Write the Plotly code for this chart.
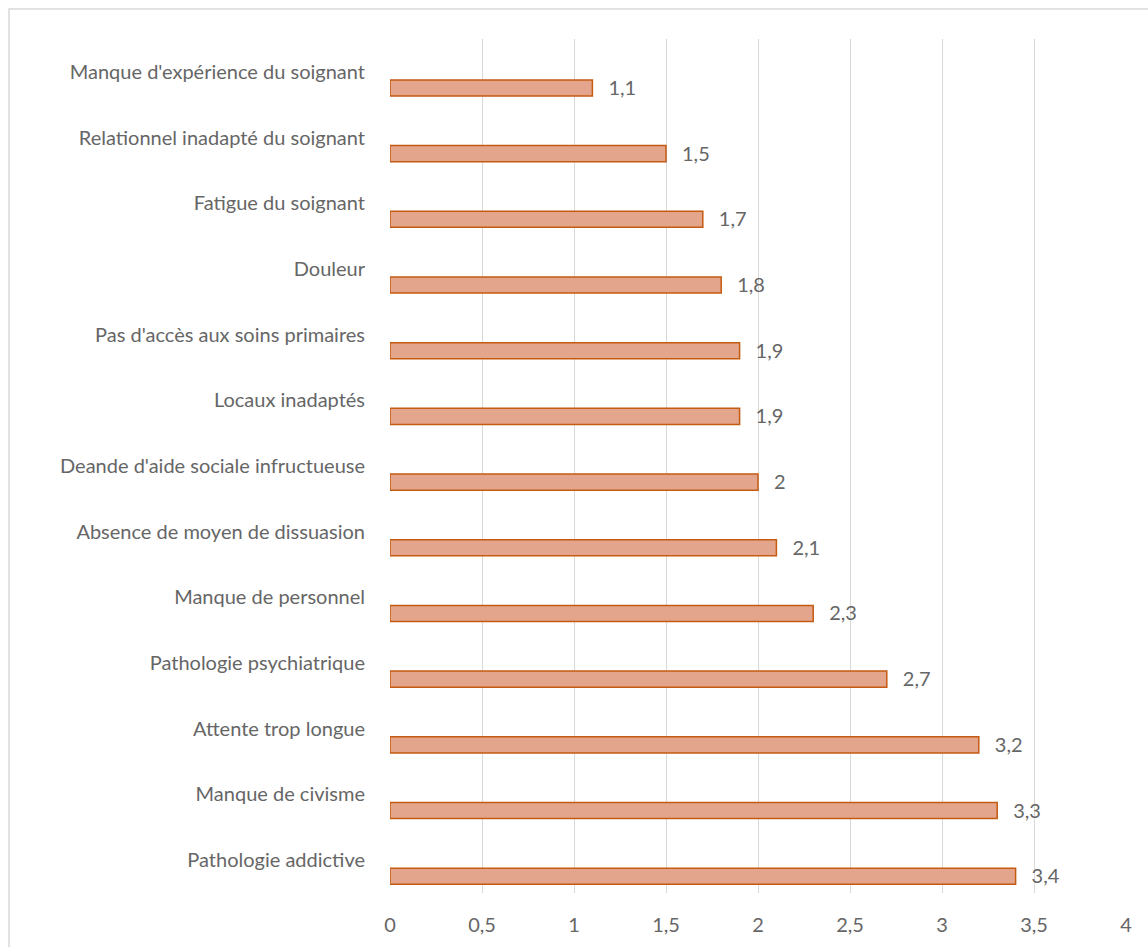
import plotly.graph_objects as go

# Causes, listed from bottom to top of the chart
categories = [
    "Pathologie addictive",
    "Manque de civisme",
    "Attente trop longue",
    "Pathologie psychiatrique",
    "Manque de personnel",
    "Absence de moyen de dissuasion",
    "Deande d'aide sociale infructueuse",
    "Locaux inadaptés",
    "Pas d'accès aux soins primaires",
    "Douleur",
    "Fatigue du soignant",
    "Relationnel inadapté du soignant",
    "Manque d'expérience du soignant",
]
scores = [3.4, 3.3, 3.2, 2.7, 2.3, 2.1, 2.0, 1.9, 1.9, 1.8, 1.7, 1.5, 1.1]
x_ticks = [0, 0.5, 1, 1.5, 2, 2.5, 3, 3.5, 4]

labels = [f"{v:g}".replace(".", ",") for v in scores]
tick_text = [f"{v:g}".replace(".", ",") for v in x_ticks]

FONT = "Lato"
GREY = "#666666"
SIZE = 20

# Category slots are numeric so the bars can sit below the slot label
slots = list(range(len(categories)))
BAR_W = 0.245
bar_pos = [s - BAR_W for s in slots]
label_pos = [p - 0.03 for p in bar_pos]

fig = go.Figure()
fig.add_trace(go.Bar(
    y=bar_pos,
    x=scores,
    orientation="h",
    width=BAR_W,
    marker=dict(color="#E3A68C", line=dict(color="#C55A11", width=1.5)),
    hoverinfo="skip",
))
# value labels to the right of each bar
fig.add_trace(go.Scatter(
    y=label_pos,
    x=scores,
    mode="markers+text",
    marker=dict(size=24, opacity=0),
    text=labels,
    textposition="middle right",
    textfont=dict(family=FONT, size=SIZE, color=GREY),
    cliponaxis=False,
    hoverinfo="skip",
))

fig.update_layout(
    width=1148,
    height=947,
    margin=dict(l=390, r=22, t=39, b=54),
    paper_bgcolor="white",
    plot_bgcolor="white",
    showlegend=False,
    font=dict(family=FONT, size=SIZE, color=GREY),
    xaxis=dict(
        range=[0, 4],
        tickvals=x_ticks,
        ticktext=tick_text,
        showgrid=True,
        gridcolor="#D9D9D9",
        gridwidth=1,
        zeroline=False,
        showline=False,
        ticks="",
        ticklabelstandoff=18,
        tickfont=dict(family=FONT, size=SIZE, color=GREY),
    ),
    yaxis=dict(
        range=[-0.5, len(categories) - 0.5],
        tickvals=slots,
        ticktext=categories,
        showgrid=False,
        zeroline=False,
        showline=False,
        ticks="",
        ticklabelstandoff=24,
        tickfont=dict(family=FONT, size=SIZE, color=GREY),
    ),
    shapes=[dict(
        type="rect",
        xref="paper", yref="paper",
        x0=(9 - 390) / 736, x1=1.5,
        y0=-0.5, y1=1 + (39 - 9) / 854,
        line=dict(color="#D9D9D9", width=1.5),
        fillcolor="rgba(0,0,0,0)",
        layer="below",
    )],
)

fig.write_html("out.html")
